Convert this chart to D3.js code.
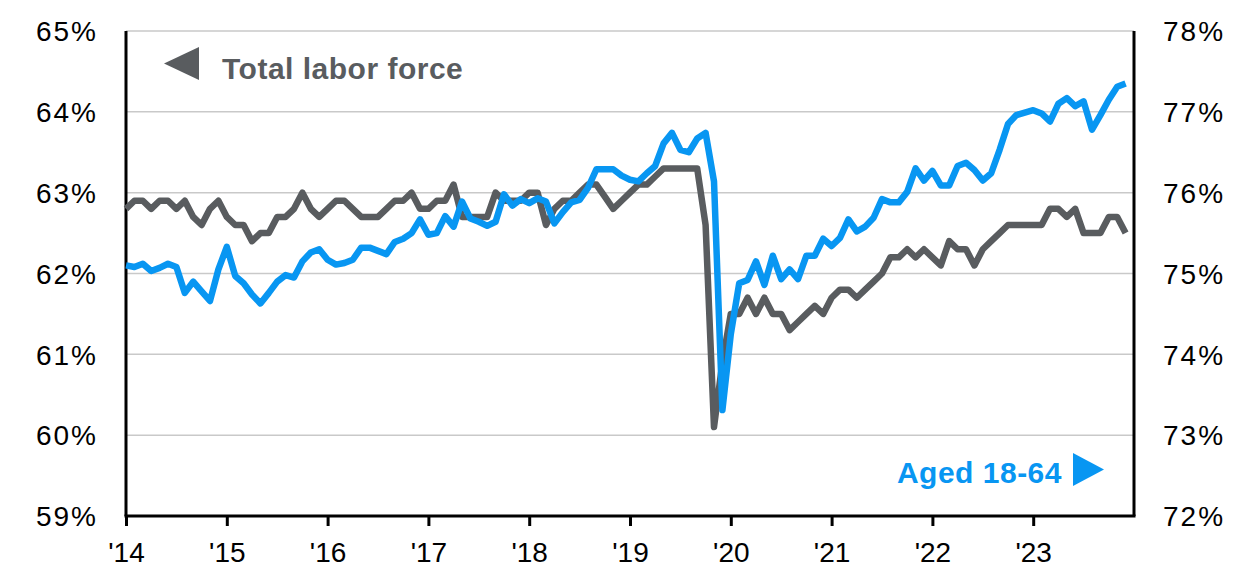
<!DOCTYPE html>
<html>
<head>
<meta charset="utf-8">
<script src="https://cdn.jsdelivr.net/npm/d3@7"></script>
<style>
  body { margin: 0; background: #fff; }
  #vis text { font-family: "Liberation Sans", Arial, sans-serif; }
</style>
</head>
<body>
<div id="vis"></div>
<script>
////////////////////////////////////////
//////////////// Data //////////////////
////////////////////////////////////////

// monthly readings, one point per month across the ten year axis
const yearLabels = ["'14", "'15", "'16", "'17", "'18", "'19", "'20", "'21", "'22", "'23"];

// total labor force participation rate (left axis)
const totalLaborForce = [
  62.8, 62.9, 62.9, 62.8, 62.9, 62.9, 62.8, 62.9, 62.7, 62.6, 62.8, 62.9,
  62.7, 62.6, 62.6, 62.4, 62.5, 62.5, 62.7, 62.7, 62.8, 63.0, 62.8, 62.7,
  62.8, 62.9, 62.9, 62.8, 62.7, 62.7, 62.7, 62.8, 62.9, 62.9, 63.0, 62.8,
  62.8, 62.9, 62.9, 63.1, 62.7, 62.7, 62.7, 62.7, 63.0, 62.9, 62.9, 62.9,
  63.0, 63.0, 62.6, 62.8, 62.9, 62.9, 63.0, 63.1, 63.1, 62.95, 62.8, 62.9,
  63.0, 63.1, 63.1, 63.2, 63.3, 63.3, 63.3, 63.3, 63.3, 62.6, 60.1, 60.9,
  61.5, 61.5, 61.7, 61.5, 61.7, 61.5, 61.5, 61.3, 61.4, 61.5, 61.6, 61.5,
  61.7, 61.8, 61.8, 61.7, 61.8, 61.9, 62.0, 62.2, 62.2, 62.3, 62.2, 62.3,
  62.2, 62.1, 62.4, 62.3, 62.3, 62.1, 62.3, 62.4, 62.5, 62.6, 62.6, 62.6,
  62.6, 62.6, 62.8, 62.8, 62.7, 62.8, 62.5, 62.5, 62.5, 62.7, 62.7, 62.5,
];

// participation rate, aged 18-64 (right axis)
const aged1864 = [
  75.1, 75.08, 75.12, 75.03, 75.07, 75.12, 75.08, 74.76, 74.9, 74.78, 74.66, 75.05,
  75.33, 74.97, 74.88, 74.74, 74.63, 74.76, 74.9, 74.98, 74.95, 75.15, 75.26, 75.3,
  75.17, 75.11, 75.13, 75.17, 75.32, 75.32, 75.28, 75.24, 75.39, 75.43, 75.5, 75.67,
  75.48, 75.5, 75.71, 75.58, 75.89, 75.68, 75.64, 75.59, 75.64, 75.98, 75.84, 75.92,
  75.87, 75.93, 75.89, 75.62, 75.76, 75.88, 75.91, 76.06, 76.29, 76.29, 76.29, 76.21,
  76.16, 76.14, 76.24, 76.33, 76.61, 76.74, 76.53, 76.5, 76.67, 76.74, 76.14, 73.31,
  74.25, 74.88, 74.92, 75.15, 74.86, 75.22, 74.93, 75.05, 74.93, 75.22, 75.22, 75.43,
  75.34, 75.44, 75.67, 75.52, 75.58, 75.69, 75.92, 75.88, 75.88, 76.01, 76.3, 76.15,
  76.27, 76.09, 76.09, 76.33, 76.37, 76.28, 76.15, 76.24, 76.53, 76.85, 76.96, 76.99,
  77.02, 76.98, 76.88, 77.1, 77.17, 77.07, 77.13, 76.78, 76.96, 77.15, 77.31, 77.35,
];

const leftTicks = [59, 60, 61, 62, 63, 64, 65];
const rightTicks = [72, 73, 74, 75, 76, 77, 78];

////////////////////////////////////////
/////////////// Options ////////////////
////////////////////////////////////////

const options = {
  width: 1242,
  height: 568,
  margin: { top: 31, right: 108, bottom: 52, left: 126 },
  gray: "#595c5f",
  blue: "#0896f2",
  grid: "#c9c9c9",
  lineWidth: 6.5,
};

const width = options.width - options.margin.left - options.margin.right;
const height = options.height - options.margin.top - options.margin.bottom;

////////////////////////////////////////
/////////////// Scales /////////////////
////////////////////////////////////////

const monthsPerYear = 12;

const xScale = d3
  .scaleLinear()
  .domain([0, yearLabels.length * monthsPerYear])
  .range([0, width]);

const yLeft = d3
  .scaleLinear()
  .domain(d3.extent(leftTicks))
  .range([height, 0]);

const yRight = d3
  .scaleLinear()
  .domain(d3.extent(rightTicks))
  .range([height, 0]);

////////////////////////////////////////
////////////// DOM Setup ///////////////
////////////////////////////////////////

const svg = d3
  .select("#vis")
  .append("svg")
  .attr("width", options.width)
  .attr("height", options.height)
  .attr("viewBox", `0 0 ${options.width} ${options.height}`);

svg.append("rect").attr("width", options.width).attr("height", options.height).attr("fill", "#fff");

const g = svg
  .append("g")
  .attr("transform", `translate(${options.margin.left},${options.margin.top})`);

// horizontal gridlines
g.append("g")
  .selectAll("line")
  .data(leftTicks)
  .join("line")
  .attr("x1", 0)
  .attr("x2", width)
  .attr("y1", (d) => yLeft(d))
  .attr("y2", (d) => yLeft(d))
  .attr("stroke", options.grid)
  .attr("stroke-width", 1.5);

// left axis labels
const leftAxis = g
  .append("g")
  .call(d3.axisLeft(yLeft).tickValues(leftTicks).tickSize(0).tickPadding(28).tickFormat((d) => d + "%"));
leftAxis.select(".domain").remove();

// right axis labels
const rightAxis = g
  .append("g")
  .attr("transform", `translate(${width},0)`)
  .call(d3.axisRight(yRight).tickValues(rightTicks).tickSize(0).tickPadding(29).tickFormat((d) => d + "%"));
rightAxis.select(".domain").remove();

[leftAxis, rightAxis].forEach((ax) => {
  ax.selectAll("text")
    .attr("font-size", 28)
    .attr("letter-spacing", 2)
    .attr("fill", "#000")
    .attr("dy", "0.35em");
});

// bottom axis with year ticks
const xAxis = g
  .append("g")
  .attr("transform", `translate(0,${height})`)
  .call(
    d3
      .axisBottom(xScale)
      .tickValues(yearLabels.map((d, i) => i * monthsPerYear))
      .tickSize(10)
      .tickPadding(16)
      .tickFormat((d, i) => yearLabels[i])
  );
xAxis.select(".domain").remove();
xAxis.selectAll("line").attr("stroke", "#000").attr("stroke-width", 3);
xAxis.selectAll("text").attr("font-size", 28).attr("fill", "#000");

// axis frame lines
g.append("line").attr("x1", 0).attr("x2", 0).attr("y1", 0).attr("y2", height)
  .attr("stroke", "#000").attr("stroke-width", 3);
g.append("line").attr("x1", width).attr("x2", width).attr("y1", 0).attr("y2", height)
  .attr("stroke", "#000").attr("stroke-width", 3);
g.append("line").attr("x1", -1.5).attr("x2", width + 1.5).attr("y1", height).attr("y2", height)
  .attr("stroke", "#000").attr("stroke-width", 3);

////////////////////////////////////////
//////////////// Lines /////////////////
////////////////////////////////////////

const lineLeft = d3.line().x((d, i) => xScale(i)).y((d) => yLeft(d));
const lineRight = d3.line().x((d, i) => xScale(i)).y((d) => yRight(d));

g.append("path")
  .datum(totalLaborForce)
  .attr("d", lineLeft)
  .attr("fill", "none")
  .attr("stroke", options.gray)
  .attr("stroke-width", options.lineWidth)
  .attr("stroke-linejoin", "round");

g.append("path")
  .datum(aged1864)
  .attr("d", lineRight)
  .attr("fill", "none")
  .attr("stroke", options.blue)
  .attr("stroke-width", options.lineWidth)
  .attr("stroke-linejoin", "round");

////////////////////////////////////////
/////////////// Legend /////////////////
////////////////////////////////////////

// "Total labor force" pointing to the left axis
svg.append("path")
  .attr("d", "M164,63.5 L199,47 L199,80 Z")
  .attr("fill", options.gray);
svg.append("text")
  .attr("x", 222)
  .attr("y", 79)
  .attr("font-size", 30)
  .attr("font-weight", "bold")
  .attr("letter-spacing", 0.5)
  .attr("fill", options.gray)
  .text("Total labor force");

// "Aged 18-64" pointing to the right axis
svg.append("text")
  .attr("x", 1062)
  .attr("y", 483)
  .attr("text-anchor", "end")
  .attr("font-size", 30)
  .attr("font-weight", "bold")
  .attr("letter-spacing", 0.5)
  .attr("fill", options.blue)
  .text("Aged 18-64");
svg.append("path")
  .attr("d", "M1073,453 L1104,469.5 L1073,486 Z")
  .attr("fill", options.blue);
</script>
</body>
</html>
